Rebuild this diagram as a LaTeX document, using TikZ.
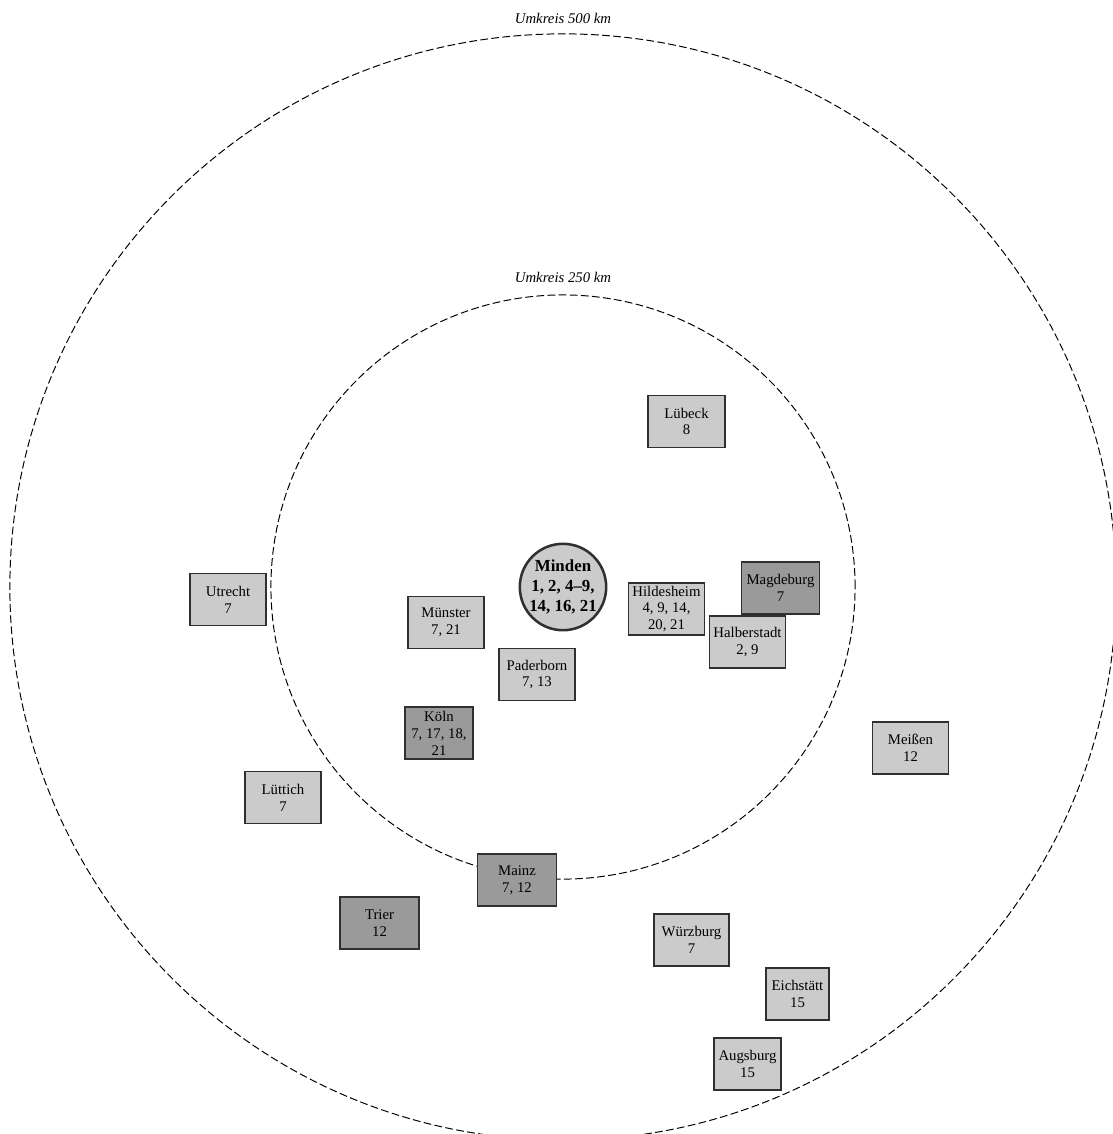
\documentclass[tikz,border=0pt]{standalone}
\usepackage{fontspec}
\setmainfont{Liberation Serif}
\usepackage{xcolor}
\usepackage{tikz}
\usetikzlibrary{shapes,positioning}

\definecolor{lightbox}{HTML}{CBCBCB}
\definecolor{darkbox}{HTML}{9A9A9A}
\definecolor{edge}{HTML}{303030}

\begin{document}
\begin{tikzpicture}[x=0.025cm, y=-0.025cm,
        every node/.style = {align=center, inner sep=1pt, font=\fontsize{10.5}{12}\selectfont},
        city/.style = {shape=rectangle, draw=edge, line width=0.9pt, fill=lightbox,
            minimum width=1.9cm, minimum height=1.3cm},
        bigcity/.style = {city, fill=darkbox},
        home/.style = {shape=circle, draw=edge, line width=1.8pt, fill=lightbox,
            minimum size=2.15cm, inner sep=0pt, font=\fontsize{12}{14.2}\selectfont\bfseries},
        ring/.style = {draw=black, line width=0.7pt, dash pattern=on 5.5pt off 2.4pt},
        ringlabel/.style = {font=\fontsize{10.5}{12}\selectfont\itshape}]
    \useasboundingbox (0,0) rectangle (1113,1134);

    % centre and radius rings
    \node[home] (minden) at (563,587) {Minden\\1, 2, 4--9,\\14, 16, 21};
    \draw[ring] (minden.center) circle[radius=7.3cm];
    \draw[ring] (minden.center) circle[radius=13.825cm];
    \node[ringlabel] (label500) at (563,18) {Umkreis 500 km};
    \node[ringlabel] (label250) at (563,277) {Umkreis 250 km};

    % places inside 250 km
    \node[city, minimum width=1.92cm] (luebeck) at (686.5,421.5) {Lübeck\\8};
    \node[city] (muenster) at (446,622.5) {Münster\\7, 21};
    \node[city] (hildesheim) at (666.5,609) {Hildesheim\\4, 9, 14,\\20, 21};
    \node[bigcity, minimum width=1.95cm] (magdeburg) at (780.5,588) {Magdeburg\\7};
    \node[city] (halberstadt) at (747.5,642) {Halberstadt\\2, 9};
    \node[city] (paderborn) at (537,674.5) {Paderborn\\7, 13};
    \node[bigcity, minimum width=1.7cm] (koeln) at (439,733) {Köln\\7, 17, 18,\\21};
    \node[bigcity, minimum width=1.98cm] (mainz) at (517,880) {Mainz\\7, 12};

    % places inside 500 km
    \node[city] (utrecht) at (228,599.5) {Utrecht\\7};
    \node[city] (luettich) at (283,797.5) {Lüttich\\7};
    \node[city] (meissen) at (910.5,748) {Meißen\\12};
    \node[bigcity, minimum width=1.97cm] (trier) at (379.5,923) {Trier\\12};
    \node[city, minimum width=1.87cm] (wuerzburg) at (691.5,940) {Würzburg\\7};
    \node[city, minimum width=1.58cm] (eichstaett) at (797.5,994) {Eichstätt\\15};
    \node[city, minimum width=1.68cm] (augsburg) at (747.5,1064) {Augsburg\\15};
\end{tikzpicture}
\end{document}
